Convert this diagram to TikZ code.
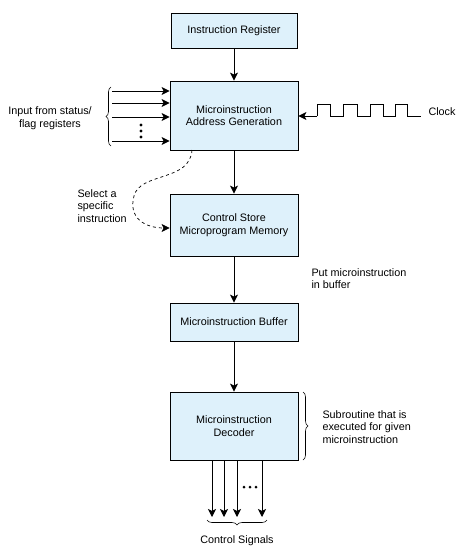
\documentclass[tikz,border=0pt]{standalone}
\usepackage{fontspec}
\setmainfont{Liberation Sans}
\usetikzlibrary{arrows.meta,decorations.pathreplacing}
\definecolor{boxfill}{RGB}{222,241,251}
\begin{document}
\begin{tikzpicture}[x=1pt,y=-1pt,
  blk/.style={draw=black,line width=0.8pt,fill=boxfill,align=center,inner sep=0pt,minimum width=128pt},
  txt/.style={font=\fontsize{10.8}{12.6}\selectfont},
  arr/.style={line width=0.9pt,-{Stealth[length=8pt,width=8pt,inset=2pt]}},
  brc/.style={line width=0.6pt,decorate,decoration={brace,amplitude=5pt}}]
\useasboundingbox (0,0) rectangle (463,559);
\tikzset{every node/.append style={txt}}
% boxes
\node[blk,minimum width=126pt,minimum height=35pt] (ir) at (234,30.5) {Instruction Register};
\node[blk,minimum height=69pt] (ag) at (234,115.5) {Microinstruction\\Address Generation};
\node[blk,minimum height=62pt] (cs) at (234,225) {Control Store\\Microprogram Memory};
\node[blk,minimum height=38pt] (buf) at (234,322) {Microinstruction Buffer};
\node[blk,minimum height=68pt] (dec) at (234,426) {Microinstruction\\Decoder};
% main arrows
\draw[arr] (ir) -- (ag);
\draw[arr] (ag) -- (cs);
\draw[arr] (cs) -- (buf);
\draw[arr] (buf) -- (dec);
% inputs
\foreach \n/\yy in {i1/91,i2/103,i3/117,i4/141}{
  \coordinate (\n) at (112,\yy);
  \draw[arr] (\n) -- (ag.west |- \n);
}
\foreach \yy in {125,131,137} \fill (141,\yy) circle (1.6pt);
\draw[brc] (111,146) -- (111,87);
\node[align=center] (inlab) at (50,118) {Input from status/\\flag registers};
% clock
\coordinate (ck) at (317,116);
\draw[arr] (ck) -- (ag.east |- ck);
\draw[line width=0.9pt] (ck) -- (317,104) -- (330,104) -- (330,116) -- (343,116) -- (343,104) -- (357,104) -- (357,116) -- (370,116) -- (370,104) -- (383,104) -- (383,116) -- (395,116) -- (395,104) -- (407,104) -- (407,116) -- (421,116);
\node[anchor=west] (cklab) at (425,112) {Clock};
% dashed selection
\coordinate (ds) at (192,150);
\draw[arr,dashed,line width=0.7pt] (ds) .. controls (190,182) and (140,172) .. (134,196) .. controls (128,218) and (145,228) .. (cs.west |- 0,228);
\node[anchor=west,align=left] (sel) at (74,206) {Select a\\specific\\instruction};
% put label
\node[anchor=west,align=left] (put) at (308,278.5) {Put microinstruction\\in buffer};
% decoder brace
\draw[brc] (303,392) -- (303,460);
\node[anchor=west,align=left] (sub) at (319,427) {Subroutine that is\\executed for given\\microinstruction};
% outputs
\foreach \n/\xx in {o1/212,o2/224,o3/237,o4/262}{
  \coordinate (\n) at (\xx,517);
  \draw[arr] (dec.south -| \n) -- (\n);
}
\foreach \xx in {244,250,256} \fill (\xx,487) circle (1.5pt);
\draw[brc] (267,520) -- (207,520);
\node (cslab) at (237,541) {Control Signals};
\end{tikzpicture}
\end{document}
